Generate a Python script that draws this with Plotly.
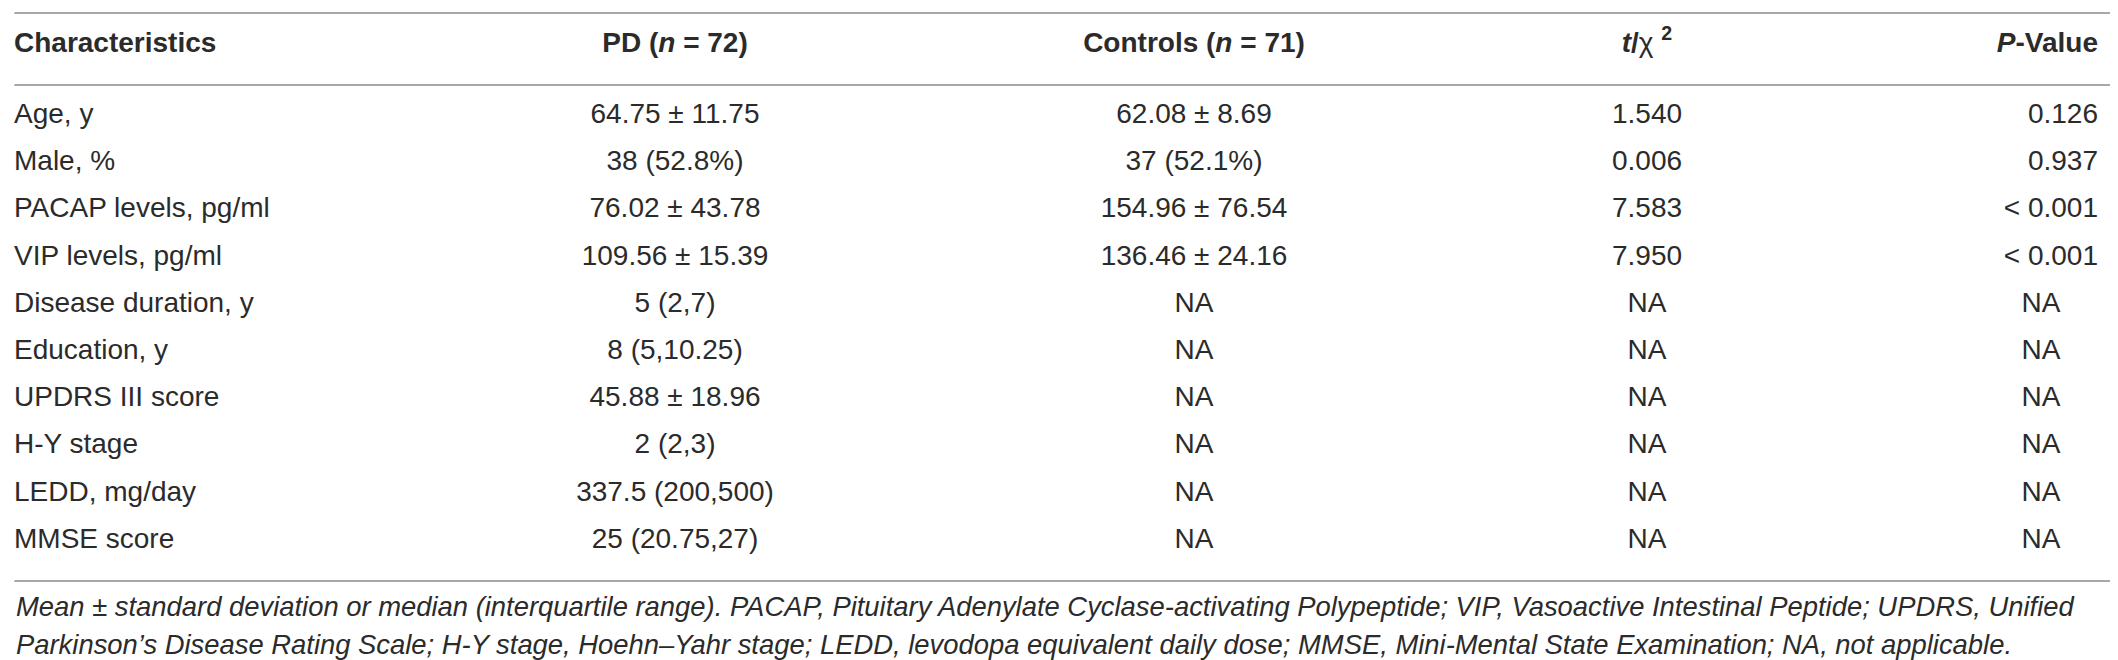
import plotly.graph_objects as go

# table content
headers = [
    "<b>Characteristics</b>",
    "<b>PD (<i>n</i> = 72)</b>",
    "<b>Controls (<i>n</i> = 71)</b>",
    "<b><i>t</i>/</b>χ <b><sup>2</sup></b>",
    "<b><i>P</i>-Value</b>",
]
characteristics = [
    "Age, y", "Male, %", "PACAP levels, pg/ml", "VIP levels, pg/ml",
    "Disease duration, y", "Education, y", "UPDRS III score", "H-Y stage",
    "LEDD, mg/day", "MMSE score",
]
pd_values = [
    "64.75 ± 11.75", "38 (52.8%)", "76.02 ± 43.78", "109.56 ± 15.39",
    "5 (2,7)", "8 (5,10.25)", "45.88 ± 18.96", "2 (2,3)",
    "337.5 (200,500)", "25 (20.75,27)",
]
control_values = [
    "62.08 ± 8.69", "37 (52.1%)", "154.96 ± 76.54", "136.46 ± 24.16",
    "NA", "NA", "NA", "NA", "NA", "NA",
]
test_stats = ["1.540", "0.006", "7.583", "7.950", "NA", "NA", "NA", "NA", "NA", "NA"]
p_values = ["0.126", "0.937", "< 0.001", "< 0.001", "NA", "NA", "NA", "NA", "NA", "NA"]
footnote = [
    "Mean ± standard deviation or median (interquartile range). PACAP, Pituitary Adenylate "
    "Cyclase-activating Polypeptide; VIP, Vasoactive Intestinal Peptide; UPDRS, Unified",
    "Parkinson’s Disease Rating Scale; H-Y stage, Hoehn–Yahr stage; LEDD, levodopa equivalent "
    "daily dose; MMSE, Mini-Mental State Examination; NA, not applicable.",
]

W, H = 2118, 660
FONT = "Liberation Sans, Arial, sans-serif"
TEXT_COLOR = "#2b2b2b"
RULE_COLOR = "#a7a7a7"
FS = 28
FOOT_FS = 27.4

# layout of rows: pixel centre of first body row and row pitch
ROW0_PX = 108
ROW_DY = 47.2


def px_to_row(px):
    return (px - ROW0_PX) / ROW_DY


rows = list(range(len(characteristics)))
header_row = px_to_row(37)

fig = go.Figure()


def add_col(x, labels, pos, ys):
    fig.add_trace(go.Scatter(
        x=[x] * len(labels), y=ys, text=labels, mode="text",
        textposition=pos, hoverinfo="skip", showlegend=False,
        textfont=dict(family=FONT, size=FS, color=TEXT_COLOR),
    ))


# header row
add_col(6, headers[:1], "middle right", [header_row])
add_col(667, headers[1:2], "middle center", [header_row])
add_col(1186, headers[2:3], "middle center", [header_row])
add_col(1639, headers[3:4], "middle center", [header_row])
add_col(2090, headers[4:], "middle left", [header_row])

# body
add_col(6, characteristics, "middle right", rows)
add_col(667, pd_values, "middle center", rows)
add_col(1186, control_values, "middle center", rows)
add_col(1639, test_stats, "middle center", rows)

# P-values: numbers flush right, NA centred under the header
num_rows = [r for r, v in zip(rows, p_values) if v != "NA"]
na_rows = [r for r, v in zip(rows, p_values) if v == "NA"]
add_col(2090, [v for v in p_values if v != "NA"], "middle left", num_rows)
add_col(2033, [v for v in p_values if v == "NA"], "middle center", na_rows)

# horizontal rules
for px in (5, 77, 573):
    fig.add_shape(type="line", xref="paper", yref="y", x0=0.003, x1=0.997,
                  y0=px_to_row(px), y1=px_to_row(px),
                  line=dict(color=RULE_COLOR, width=2))

for i, line in enumerate(footnote):
    fig.add_annotation(
        text=f"<i>{line}</i>", xref="x", yref="y", x=6, y=px_to_row(598 + 38 * i),
        xanchor="left", yanchor="middle", showarrow=False,
        font=dict(family=FONT, size=FOOT_FS, color=TEXT_COLOR),
    )

fig.update_layout(
    width=W, height=H,
    margin=dict(l=0, r=0, t=0, b=0),
    paper_bgcolor="white", plot_bgcolor="white",
    xaxis=dict(range=[0, W], visible=False, fixedrange=True),
    yaxis=dict(range=[px_to_row(H), px_to_row(0)], visible=False, fixedrange=True),
)

fig.write_html("out.html")
